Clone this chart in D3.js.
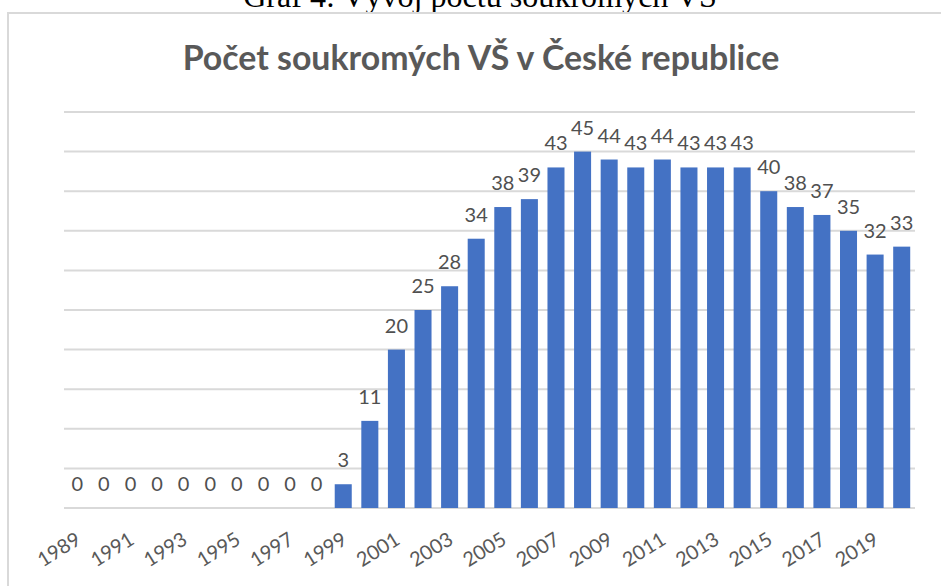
<!DOCTYPE html>
<html><head><meta charset="utf-8">
<script src="https://cdn.jsdelivr.net/npm/d3@7"></script>
<style>html,body{margin:0;padding:0;background:#fff;}svg{display:block;}</style>
</head><body>
<svg id="c" width="941" height="586"></svg>
<script>
const years = d3.range(1989, 2021).map(String);
const counts = [0,0,0,0,0,0,0,0,0,0,3,11,20,25,28,34,38,39,43,45,44,43,44,43,43,43,40,38,37,35,32,33];
const tickLabels = years.filter((d,i)=>i%2===0);
const gridValues = [0,5,10,15,20,25,30,35,40,45,50];
const chartTitle = "Počet soukromých VŠ v České republice";
const captionText = "Graf 4: Vývoj počtu soukromých VŠ";

const svg = d3.select("#c");
svg.append("rect").attr("width",941).attr("height",586).attr("fill","#fff");

function fitText(sel, target){
  const w = sel.node().getComputedTextLength();
  const fs = parseFloat(sel.attr("font-size"));
  sel.attr("font-size", fs*target/w);
}

const cap = svg.append("text").text(captionText)
  .attr("x",480).attr("y",7).attr("text-anchor","middle")
  .attr("font-family","'Liberation Serif', serif").attr("font-size",30).attr("fill","#000");
fitText(cap, 474);

svg.append("rect").attr("x",8).attr("y",13).attr("width",960).attr("height",600)
  .attr("fill","#fff").attr("stroke","#d9d9d9").attr("stroke-width",2);

const title = svg.append("text").text(chartTitle)
  .attr("x",481).attr("y",70).attr("text-anchor","middle")
  .attr("font-family","Lato, sans-serif").attr("font-weight","bold").attr("font-size",30).attr("fill","#595959");
fitText(title, 597);

const x = d3.scaleBand().domain(years).range([64,915]).paddingInner(0.36).paddingOuter(0.18);
const y = d3.scaleLinear().domain([0,50]).range([508,112]);

svg.append("g").selectAll("line").data(gridValues).join("line")
  .attr("x1",64).attr("x2",915)
  .attr("y1",d=>y(d)).attr("y2",d=>y(d))
  .attr("stroke","#d9d9d9").attr("stroke-width",2);

svg.append("g").selectAll("rect").data(counts).join("rect")
  .attr("x",(d,i)=>x(years[i])).attr("width",x.bandwidth())
  .attr("y",d=>y(d)).attr("height",d=>y(0)-y(d))
  .attr("fill","#4472C4");

svg.append("g").selectAll("text").data(counts).join("text")
  .attr("x",(d,i)=>x(years[i])+x.bandwidth()/2)
  .attr("y",d=>y(d)-17)
  .attr("text-anchor","middle")
  .attr("font-family","Lato, sans-serif").attr("font-size",20).attr("fill","#505050")
  .text(d=>d);

const xAxis = d3.axisBottom(x).tickValues(tickLabels).tickSize(0).tickPadding(0);
const gx = svg.append("g").attr("transform","translate(0,508)").call(xAxis);
gx.select(".domain").remove();
gx.selectAll(".tick text")
  .attr("font-family","Lato, sans-serif").attr("font-size",20).attr("fill","#595959")
  .attr("text-anchor","end").attr("dy",0)
  .attr("transform","translate(5,35) rotate(-32)")
  .attr("x",0).attr("y",0);
</script>
</body></html>
